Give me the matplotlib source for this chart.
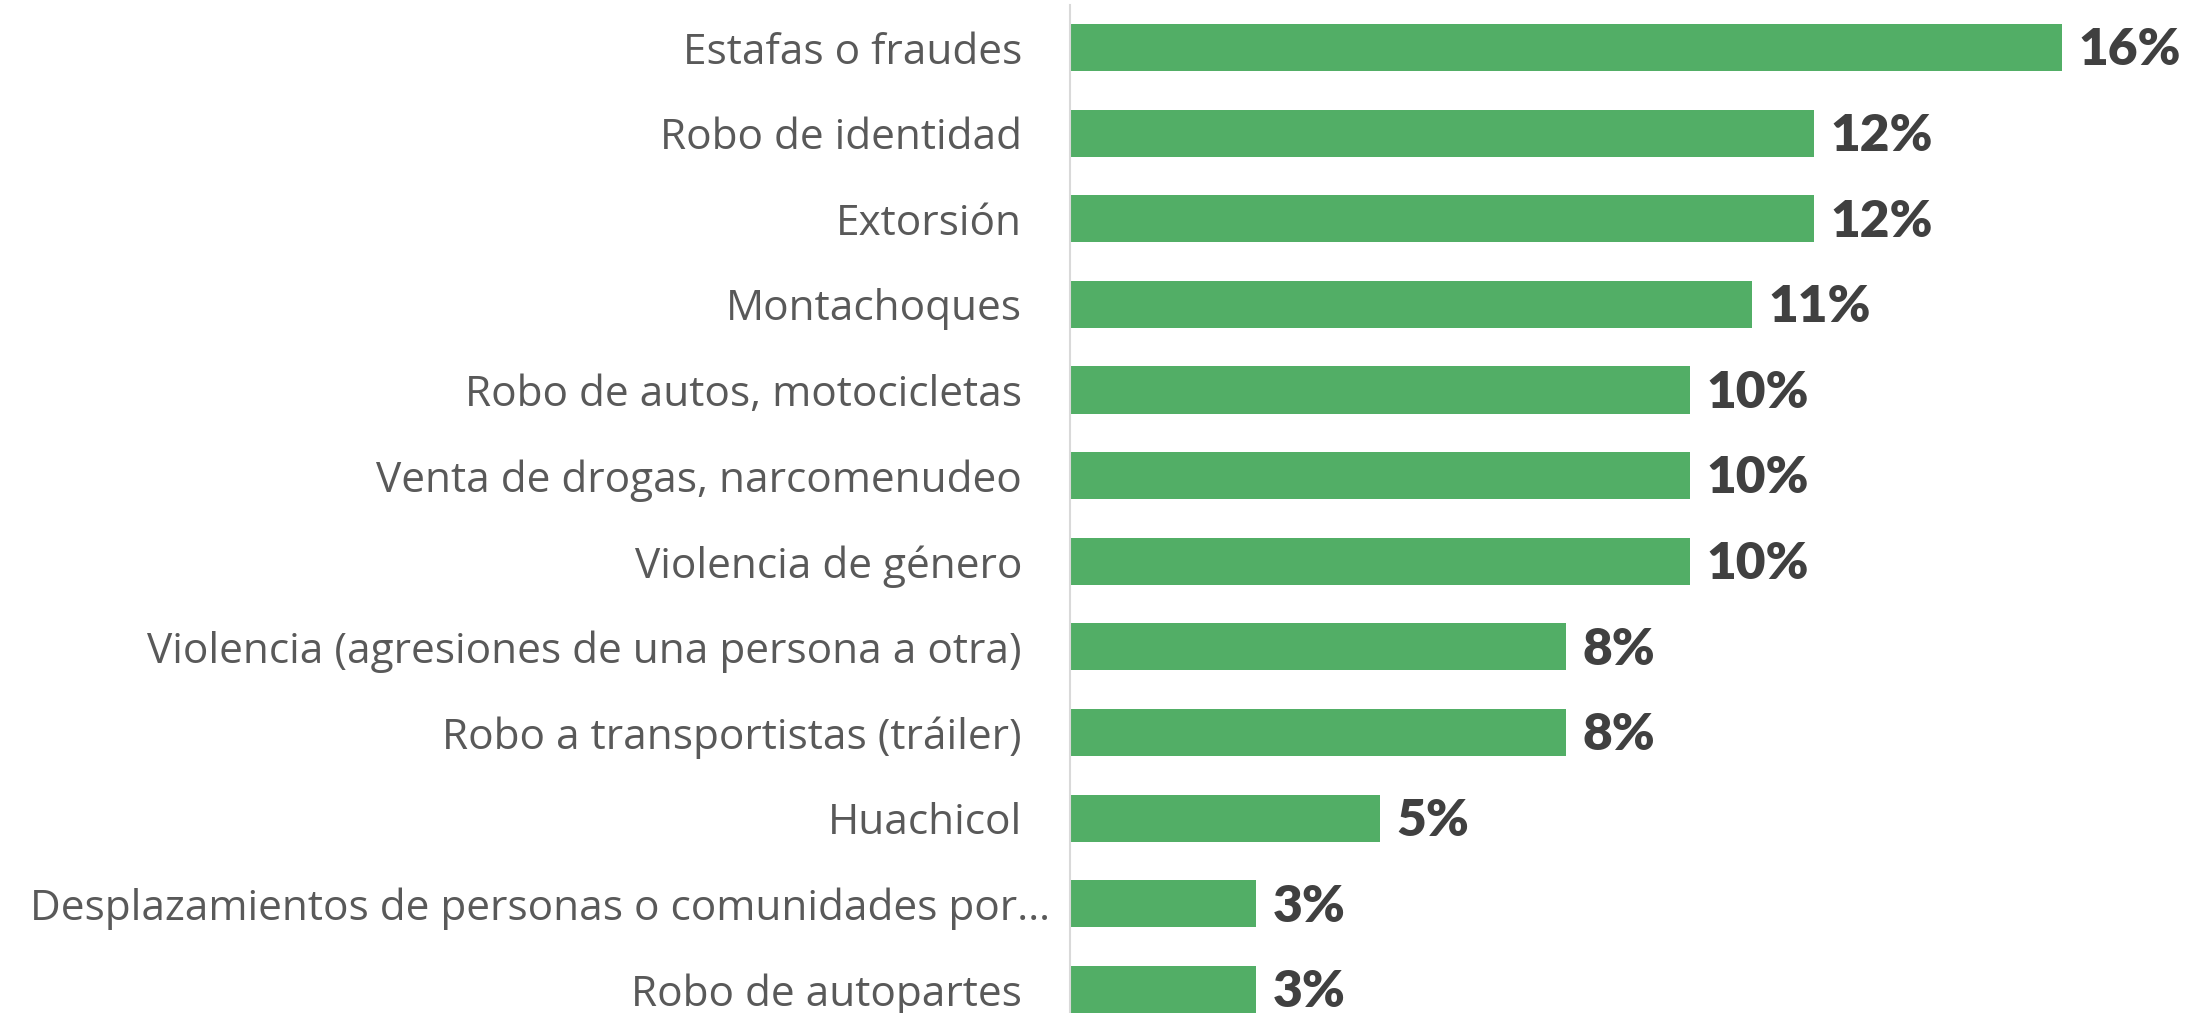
import matplotlib.pyplot as plt
from matplotlib.transforms import ScaledTranslation

categories = [
    'Estafas o fraudes',
    'Robo de identidad',
    'Extorsión',
    'Montachoques',
    'Robo de autos, motocicletas',
    'Venta de drogas, narcomenudeo',
    'Violencia de género',
    'Violencia (agresiones de una persona a otra)',
    'Robo a transportistas (tráiler)',
    'Huachicol',
    'Desplazamientos de personas o comunidades por…',
    'Robo de autopartes',
]
values = [16, 12, 12, 11, 10, 10, 10, 8, 8, 5, 3, 3]

bar_color = '#52ae66'
label_color = '#595959'
value_color = '#404040'

plt.rcParams['font.family'] = ['Open Sans', 'DejaVu Sans']

fig = plt.figure(figsize=(22.02, 10.13), dpi=100)
ax = fig.add_axes([1070 / 2202, 0, 1 - 1070 / 2202, 1])

ypos = list(range(len(categories)))
ax.barh(ypos, values, height=0.55, color=bar_color)

for y, v in zip(ypos, values):
    ax.annotate(f'{v}%', xy=(v, y), xytext=(12, -2), textcoords='offset points',
                va='center', ha='left', fontsize=37, fontweight='heavy',
                family=['Lato', 'DejaVu Sans'],
                color=value_color, annotation_clip=False)

ax.set_xlim(0, (2202 - 1070) / 62.0)
ax.set_ylim(11.275, -0.555)

ax.set_yticks(ypos)
ax.set_yticklabels(categories, fontsize=30.5, color=label_color)
ax.tick_params(axis='y', length=0, pad=34.5)
ax.set_xticks([])

# the truncated label sits a bit further right in the original
long_lbl = ax.get_yticklabels()[10]
long_lbl.set_transform(long_lbl.get_transform() + ScaledTranslation(20 / 72, 0, fig.dpi_scale_trans))

for side in ['top', 'right', 'bottom']:
    ax.spines[side].set_visible(False)
ax.spines['left'].set_color('#d9d9d9')
ax.spines['left'].set_linewidth(1.5)
ax.spines['left'].set_bounds(-0.5, 11.3)

fig.savefig('out.png', dpi=100)
